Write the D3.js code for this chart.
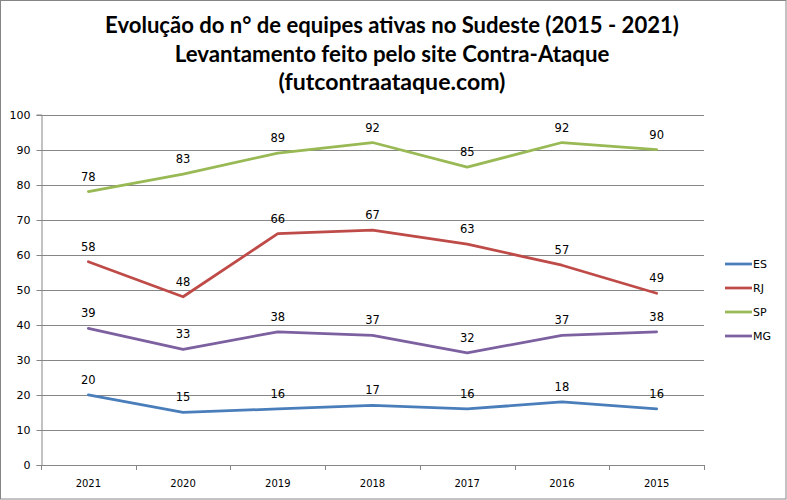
<!DOCTYPE html>
<html><head><meta charset="utf-8">
<script src="https://cdn.jsdelivr.net/npm/d3@7"></script>
<style>body{margin:0;background:#fff}svg{display:block}</style>
</head><body>
<script>
const categories = ["2021","2020","2019","2018","2017","2016","2015"];
const seriesNames = ["ES","RJ","SP","MG"];
const ES = [20,15,16,17,16,18,16];
const RJ = [58,48,66,67,63,57,49];
const SP = [78,83,89,92,85,92,90];
const MG = [39,33,38,37,32,37,38];
const yTicks = [0,10,20,30,40,50,60,70,80,90,100];
const titleLines = ["Evolução do n° de equipes ativas no Sudeste (2015 - 2021)",
  "Levantamento feito pelo site Contra-Ataque","(futcontraataque.com)"];
const colors = {ES:"#4A7EBB", RJ:"#BE4B48", SP:"#98B954", MG:"#7D60A0"};
const series = [{name:"ES",values:ES},{name:"RJ",values:RJ},{name:"SP",values:SP},{name:"MG",values:MG}];

const W=787,H=500;
const svg=d3.select("body").append("svg").attr("width",W).attr("height",H);
svg.append("rect").attr("x",0.5).attr("y",0.5).attr("width",785.5).attr("height",498.5)
  .attr("fill","#fff").attr("stroke","#868686").attr("stroke-width",1);

// title
const titleTargets=[{w:574,y:33},{w:435,y:62},{w:227,y:90}];
titleLines.forEach((t,i)=>{
  const el=svg.append("text").attr("x",392).attr("y",titleTargets[i].y)
   .attr("text-anchor","middle").attr("font-family","Lato, 'Open Sans', sans-serif")
   .attr("font-weight","bold").attr("font-size",20).attr("fill","#000").text(t);
  const len=el.node().getComputedTextLength();
  el.attr("font-size",20*titleTargets[i].w/len);
});

const x=d3.scaleBand().domain(categories).range([41,704]);
const y=d3.scaleLinear().domain([0,100]).range([465,114.5]);

// gridlines
svg.append("g").selectAll("line").data(yTicks.filter(d=>d>0)).join("line")
  .attr("x1",41).attr("x2",704).attr("y1",d=>Math.round(y(d))+0.5).attr("y2",d=>Math.round(y(d))+0.5)
  .attr("stroke","#868686").attr("stroke-width",1);

// y axis
const ya=svg.append("g").attr("transform","translate(41.5,0)")
  .call(d3.axisLeft(y).tickValues(yTicks).tickSize(5).tickPadding(6));
ya.select(".domain").attr("stroke","#868686");
ya.selectAll(".tick line").attr("stroke","#868686");
ya.selectAll(".tick").attr("transform",d=>`translate(0,${Math.round(y(d))+0.5})`);
ya.selectAll("text").attr("font-family","'DejaVu Sans', Verdana, sans-serif").attr("font-size",11).attr("fill","#000");

// x axis
const xg=svg.append("g");
xg.append("line").attr("x1",41).attr("x2",704).attr("y1",465.5).attr("y2",465.5).attr("stroke","#868686");
const bounds=categories.map(c=>x(c)).concat([x.range()[1]]);
xg.selectAll("line.t").data(bounds).join("line").attr("class","t")
  .attr("x1",d=>Math.round(d)+0.5).attr("x2",d=>Math.round(d)+0.5).attr("y1",465).attr("y2",470)
  .attr("stroke","#868686");
xg.selectAll("text").data(categories).join("text")
  .attr("x",d=>x(d)+x.bandwidth()/2).attr("y",487).attr("text-anchor","middle")
  .attr("font-family","'DejaVu Sans', Tahoma, sans-serif").attr("font-size",10).attr("fill","#000").text(d=>d);

// lines
const line=d3.line().x((d,i)=>x(categories[i])+x.bandwidth()/2).y(d=>y(d));
series.forEach(s=>{
  svg.append("path").datum(s.values).attr("d",line).attr("fill","none")
    .attr("stroke",colors[s.name]).attr("stroke-width",2.75).attr("stroke-linejoin","round").attr("stroke-linecap","round");
});
series.forEach(s=>{
  svg.append("g").selectAll("text").data(s.values).join("text")
    .attr("x",(d,i)=>x(categories[i])+x.bandwidth()/2).attr("y",d=>y(d)-11)
    .attr("text-anchor","middle").attr("font-family","'DejaVu Sans', Verdana, sans-serif")
    .attr("font-size",11.5).attr("fill","#000").text(d=>d);
});

// legend
const lg=svg.append("g");
seriesNames.forEach((n,i)=>{
  const yy=264+i*24;
  lg.append("line").attr("x1",725).attr("x2",752).attr("y1",yy).attr("y2",yy)
    .attr("stroke",colors[n]).attr("stroke-width",2.75);
  lg.append("text").attr("x",753).attr("y",yy+4).attr("font-family","'DejaVu Sans', Tahoma, sans-serif")
    .attr("font-size",11).attr("fill","#000").text(n);
});
</script>
</body></html>
